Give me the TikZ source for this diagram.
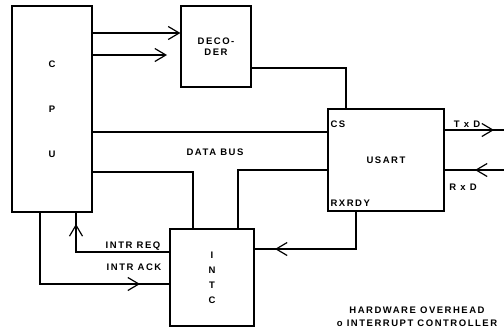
\documentclass[tikz,border=0pt]{standalone}
\usepackage{fontspec}
\setmainfont{Liberation Sans}[LetterSpace=16]
\usetikzlibrary{arrows.meta}
\begin{document}
\begin{tikzpicture}[x=1pt,y=-1pt,line width=1.2pt,
  box/.style={draw, inner sep=0pt, font=\fontsize{9.5}{11}\selectfont\bfseries, align=center},
  lbl/.style={inner sep=0pt, font=\fontsize{9.5}{11}\selectfont\bfseries},
  barb/.style={-{Straight Barb[length=11pt,width=13pt]}}]
\useasboundingbox (0,0) rectangle (504,333);
% blocks
\node[box, minimum width=80pt, minimum height=206pt] (cpu) at (52,109) {C\\[34pt]P\\[34pt]U};
\node[box, minimum width=70pt, minimum height=81pt] (dec) at (216,46.5) {DECO-\\DER};
\node[box, minimum width=116pt, minimum height=102pt] (usart) at (386,160) {USART};
\node[box, minimum width=84pt, minimum height=97pt] (intc) at (212,277.5) {I\\[4pt]N\\[4pt]T\\[4pt]C};
% labels
\node[lbl, anchor=north west] (cs) at (330,120) {CS};
\node[lbl, anchor=south west] (rxrdy) at (330,207) {RXRDY};
\node[lbl] (db) at (215,152) {DATA BUS};
\node[lbl] (req) at (133,246) {INTR REQ};
\node[lbl] (ack) at (134,267) {INTR ACK};
\node[lbl] (txdl) at (467,124) {T x D};
\node[lbl] (rxdl) at (463,187) {R x D};
\node[lbl, align=center, font=\fontsize{9.5}{13}\selectfont\bfseries] (hw) at (417,317) {HARDWARE OVERHEAD\\o INTERRUPT CONTROLLER};
% helper coordinates
\coordinate (a1) at (0,33);
\coordinate (a2e) at (167,55);
\coordinate (dk) at (346,68);
\coordinate (db1) at (0,132);
\coordinate (b1) at (193,172);
\coordinate (b2) at (238,170);
\coordinate (rq) at (76,252);
\coordinate (rqt) at (76,224);
\coordinate (ak) at (40,284);
\coordinate (akt) at (140,284);
\coordinate (rr) at (356,249);
\coordinate (rrt) at (275,249);
\coordinate (tx) at (504,130);
\coordinate (txt) at (494,130);
\coordinate (rx) at (504,170);
\coordinate (rxt) at (475,170);
% connectors
\draw[barb] (cpu.east |- a1) -- (dec.west |- a1);
\draw[barb] (cpu.east |- a2e) -- (a2e);
\draw (dec.east |- dk) -| (usart.north -| dk);
\draw (cpu.east |- db1) -- (usart.west |- db1);
\draw (cpu.east |- b1) -| (intc.north -| b1);
\draw (usart.west |- b2) -| (intc.north -| b2);
\draw (intc.west |- rq) -| (cpu.south -| rq);
\draw[barb] (rq) -- (rqt);
\draw (cpu.south -| ak) |- (intc.west |- ak);
\draw[barb] (ak) -- (akt);
\draw (usart.south -| rr) |- (intc.east |- rr);
\draw[barb] (rr) -- (rrt);
\draw (usart.east |- tx) -- (tx);
\draw[barb] (usart.east |- tx) -- (txt);
\draw (rx) -- (usart.east |- rx);
\draw[barb] (rx) -- (rxt);
\end{tikzpicture}
\end{document}
